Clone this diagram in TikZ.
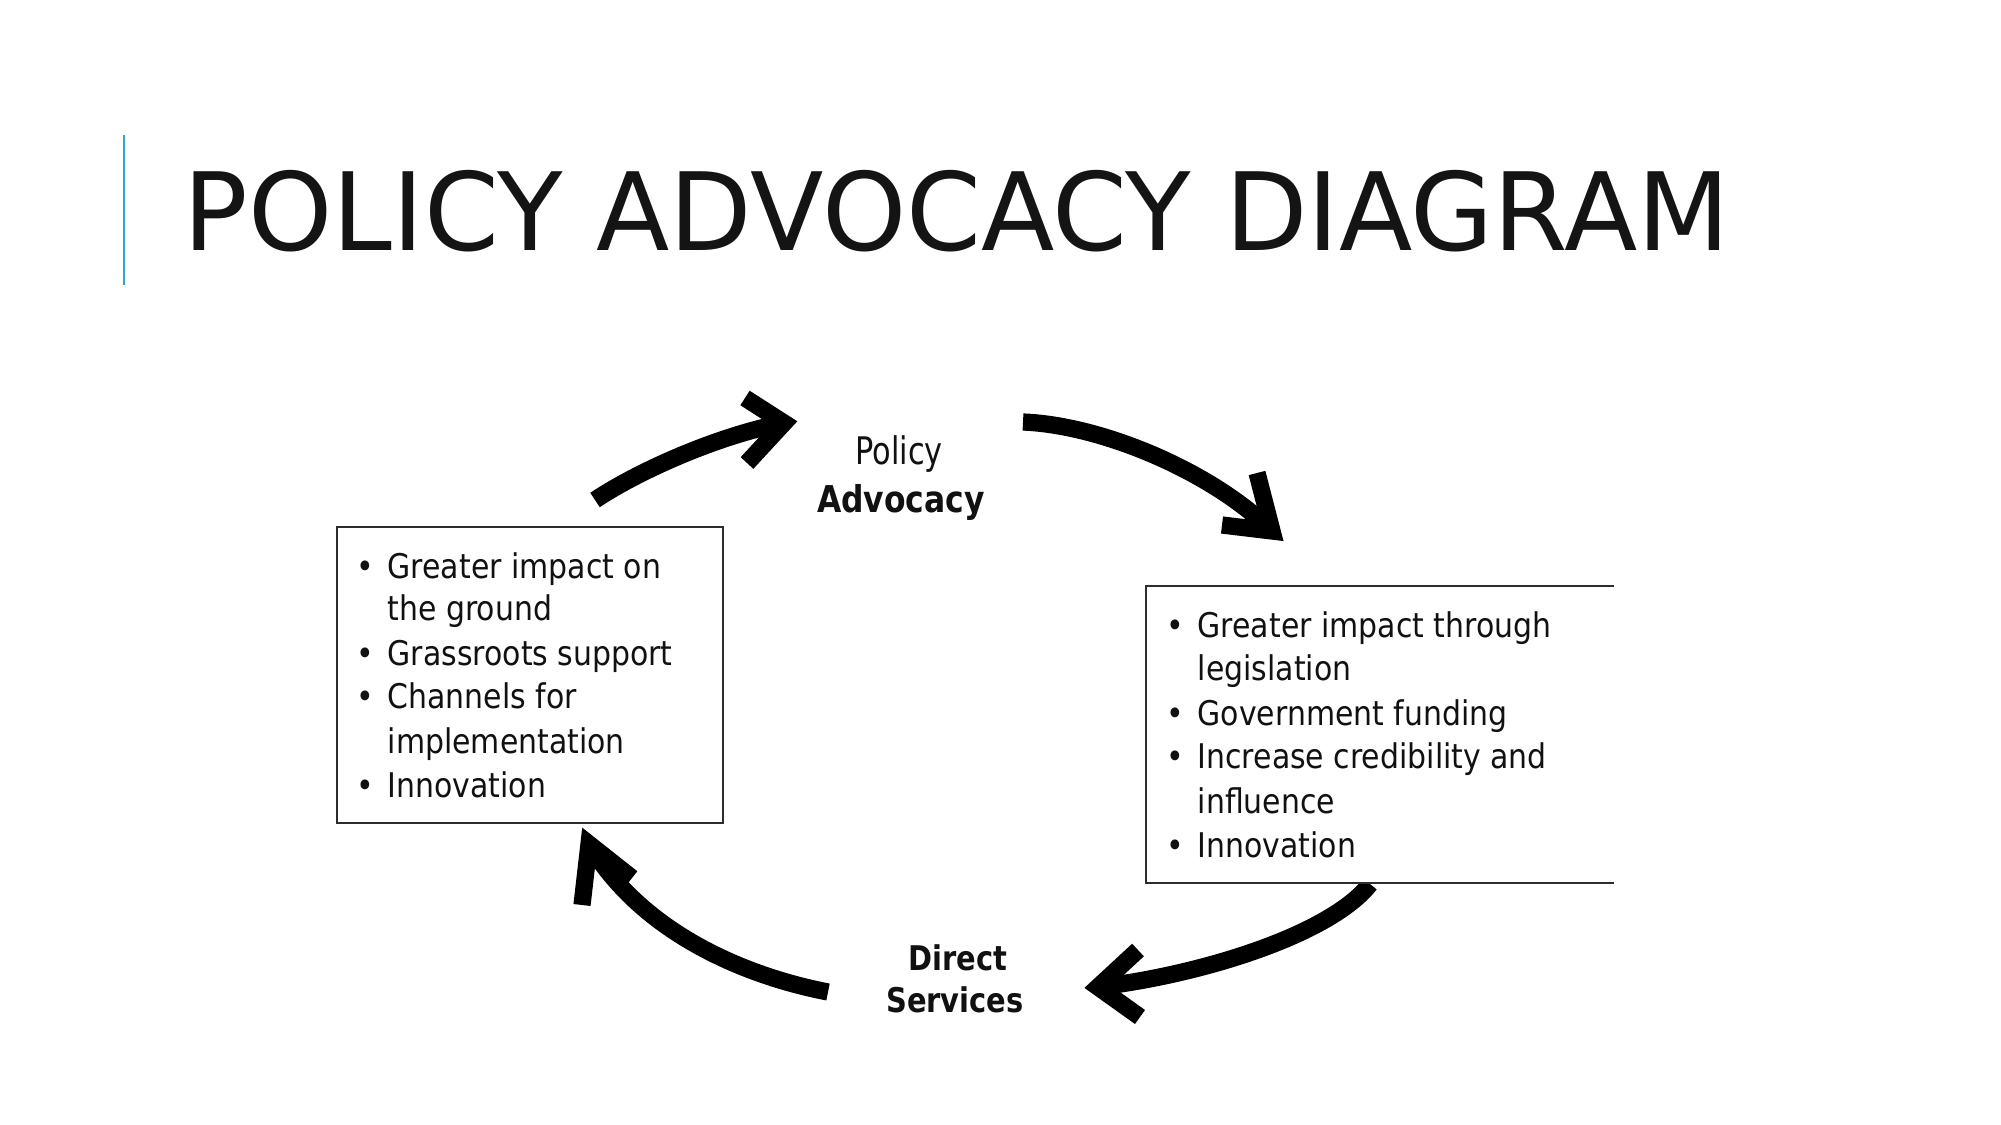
\documentclass[tikz,border=0pt]{standalone}
\usepackage{fontspec}
\setmainfont{DejaVu Sans}
\newfontfamily\titlefont[FakeStretch=0.992]{DejaVu Sans}
\newfontfamily\bodyfont[FakeStretch=0.88]{DejaVu Sans}
\newfontfamily\policyfont[FakeStretch=0.80]{DejaVu Sans}
\newfontfamily\labelfont[FakeStretch=0.85]{DejaVu Sans}
\definecolor{accent}{RGB}{52,163,219}
\definecolor{titleblack}{RGB}{20,20,20}
\definecolor{textblack}{RGB}{17,17,17}
\definecolor{boxgray}{RGB}{45,45,45}
\begin{document}
\begin{tikzpicture}[x=0.01cm,y=-0.01cm,
  bodytext/.style={anchor=base west, inner sep=0pt, text=textblack,
    font=\bodyfont\fontsize{9.67}{11}\selectfont},
  bulletmark/.style={anchor=base, inner sep=0pt, text=textblack,
    font=\bodyfont\fontsize{9.67}{11}\selectfont},
  shaft/.style={draw=black, line width=4.9pt, line cap=butt},
  headstroke/.style={draw=black, line width=4.9pt, line cap=butt, line join=miter},
  boxline/.style={draw=boxgray, line width=0.6pt},
  cyclelabel/.style={anchor=base, inner sep=0pt, text=textblack}
]
\fill[white] (0,0) rectangle (2001,1125);
\useasboundingbox (0,0) rectangle (2001,1125);

% title
\draw[accent, line width=0.8pt] (124,135) -- (124,285);
\node (title) [anchor=base west, inner sep=0pt, text=titleblack,
  font=\titlefont\fontsize{30.73}{36}\selectfont] at (183,251) {POLICY ADVOCACY DIAGRAM};

% cycle labels
\node (pol) [cyclelabel, font=\policyfont\fontsize{10.8}{12}\selectfont] at (899,465) {Policy};
\node (adv) [cyclelabel, font=\labelfont\bfseries\fontsize{10.5}{12}\selectfont] at (901,512) {Advocacy};
\node (dir) [cyclelabel, font=\labelfont\bfseries\fontsize{9.67}{11}\selectfont] at (958,970) {Direct};
\node (serv) [cyclelabel, font=\labelfont\bfseries\fontsize{9.67}{11}\selectfont] at (955,1012) {Services};

% arrow coordinates
\coordinate (a1s) at (595,500);
\coordinate (a1t) at (784,423);
\coordinate (a1u) at (745,398);
\coordinate (a1d) at (747,463);
\coordinate (a2s) at (1023,422);
\coordinate (a2t) at (1272,531);
\coordinate (a2u) at (1257,473);
\coordinate (a2d) at (1222,525);
\coordinate (a3s) at (1370,884);
\coordinate (a3t) at (1098,987);
\coordinate (a3u) at (1138,950);
\coordinate (a3d) at (1140,1017);
\coordinate (a4s) at (828,992);
\coordinate (a4t) at (589,844);
\coordinate (a4u) at (582,905);
\coordinate (a4d) at (632,878);

% arrows
\draw[shaft] (a1s) .. controls (640,470) and (720,435) .. (a1t);
\draw[headstroke] (a1u) -- (a1t) -- (a1d);
\draw[shaft] (a2s) .. controls (1100,425) and (1210,470) .. (a2t);
\draw[headstroke] (a2u) -- (a2t) -- (a2d);
\draw[shaft] (a3s) .. controls (1330,935) and (1200,975) .. (a3t);
\draw[headstroke] (a3u) -- (a3t) -- (a3d);
\draw[shaft] (a4s) .. controls (740,975) and (640,930) .. (a4t);
\draw[headstroke] (a4u) -- (a4t) -- (a4d);

% left box
\node (lbox) [boxline, fill=white, minimum width=3.86cm, minimum height=2.96cm, inner sep=0pt] at (530,675) {};
\node (l1) [bodytext] at (387,578) {Greater impact on};
\node (l2) [bodytext] at (387,620) {the ground};
\node (l3) [bodytext] at (387,665) {Grassroots support};
\node (l4) [bodytext] at (387,708) {Channels for};
\node (l5) [bodytext] at (387,753) {implementation};
\node (l6) [bodytext] at (387,797) {Innovation};
\node (lb1) [bulletmark] at (365,578) {•};
\node (lb2) [bulletmark] at (365,665) {•};
\node (lb3) [bulletmark] at (365,708) {•};
\node (lb4) [bulletmark] at (365,797) {•};

% right box (open on the right)
\node (rbox) [fill=white, minimum width=4.66cm, minimum height=2.95cm, inner sep=0pt] at (1380,734.5) {};
\draw[boxline] (rbox.north east) -- (rbox.north west) -- (rbox.south west) -- (rbox.south east);
\node (r1) [bodytext] at (1197,637) {Greater impact through};
\node (r2) [bodytext] at (1197,680) {legislation};
\node (r3) [bodytext] at (1197,725) {Government funding};
\node (r4) [bodytext] at (1197,768) {Increase credibility and};
\node (r5) [bodytext] at (1197,813) {influence};
\node (r6) [bodytext] at (1197,857) {Innovation};
\node (rb1) [bulletmark] at (1175,637) {•};
\node (rb2) [bulletmark] at (1175,725) {•};
\node (rb3) [bulletmark] at (1175,768) {•};
\node (rb4) [bulletmark] at (1175,857) {•};
\end{tikzpicture}
\end{document}
